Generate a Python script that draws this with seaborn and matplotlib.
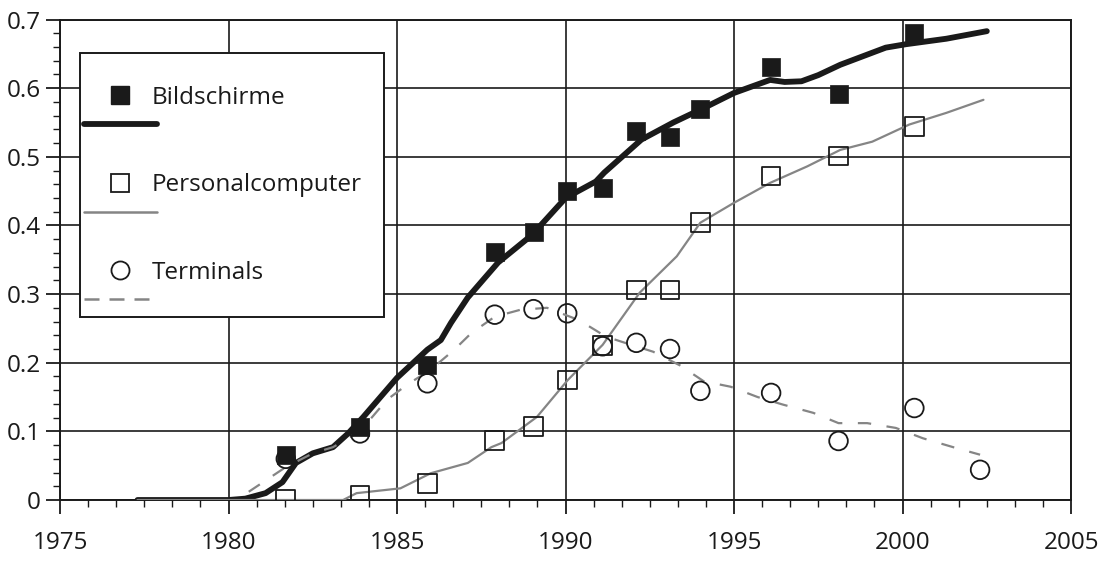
import numpy as np
import pandas as pd
import matplotlib
matplotlib.use('Agg')
import matplotlib.pyplot as plt
from matplotlib.lines import Line2D
from matplotlib.ticker import MultipleLocator, FuncFormatter
import seaborn as sns

# survey points
years = [1981.7, 1983.9, 1985.9, 1987.9, 1989.05, 1990.05, 1991.1, 1992.1,
         1993.1, 1994.0, 1996.1, 1998.1, 2000.35]
bildschirme = [0.066, 0.107, 0.197, 0.362, 0.391, 0.450, 0.454, 0.537,
               0.529, 0.569, 0.631, 0.592, 0.680]
personalcomputer = [0.001, 0.007, 0.024, 0.087, 0.107, 0.175, 0.225, 0.306,
                    0.306, 0.404, 0.472, 0.501, 0.544]
term_years = years + [2002.3]
terminals = [0.060, 0.097, 0.170, 0.270, 0.278, 0.272, 0.224, 0.229,
             0.220, 0.159, 0.156, 0.086, 0.134, 0.044]

# smoothed trend curves
bs_x = [1977.3, 1980.0, 1980.5, 1981.1, 1981.6, 1982.0, 1982.5, 1983.1, 1983.55,
        1984.0, 1985.0, 1985.9, 1986.3, 1986.6, 1987.1, 1988.0, 1989.0, 1990.0,
        1990.9, 1991.15, 1992.25, 1993.2, 1994.1, 1995.0, 1996.07, 1996.5,
        1997.0, 1997.5, 1998.15, 1999.5, 2000.1, 2001.3, 2002.5]
bs_y = [0.0, 0.0, 0.002, 0.010, 0.026, 0.054, 0.068, 0.077, 0.097,
        0.121, 0.178, 0.219, 0.233, 0.258, 0.295, 0.346, 0.386, 0.440,
        0.464, 0.477, 0.525, 0.550, 0.571, 0.593, 0.612, 0.609,
        0.610, 0.619, 0.634, 0.659, 0.664, 0.672, 0.683]

pc_x = [1977.3, 1983.4, 1983.8, 1985.1, 1986.0, 1987.1, 1987.8, 1988.1, 1989.15,
        1990.07, 1991.1, 1992.2, 1993.3, 1994.0, 1995.0, 1996.07, 1997.17,
        1998.15, 1999.1, 2000.2, 2001.3, 2002.4]
pc_y = [0.0, 0.0, 0.010, 0.017, 0.039, 0.054, 0.077, 0.083, 0.121,
        0.175, 0.226, 0.302, 0.355, 0.404, 0.433, 0.462, 0.486,
        0.510, 0.522, 0.547, 0.564, 0.583]

t_x = [1980.6, 1981.7, 1982.5, 1983.1, 1983.9, 1984.7, 1985.3, 1986.0, 1986.7,
       1987.2, 1987.9, 1988.65, 1989.45, 1990.4, 1991.2, 1991.7, 1992.6, 1993.4,
       1994.1, 1994.9, 1995.7, 1996.45, 1997.35, 1998.1, 1998.95, 1999.8,
       2000.6, 2001.5, 2002.3]
t_y = [0.012, 0.048, 0.068, 0.077, 0.100, 0.146, 0.168, 0.190, 0.219,
       0.243, 0.267, 0.277, 0.280, 0.262, 0.238, 0.230, 0.216, 0.196,
       0.173, 0.165, 0.150, 0.139, 0.127, 0.112, 0.112, 0.105,
       0.090, 0.077, 0.066]

labels = ['Bildschirme', 'Personalcomputer', 'Terminals']
x_ticks = [1975, 1980, 1985, 1990, 1995, 2000, 2005]
y_ticks = [0, 0.1, 0.2, 0.3, 0.4, 0.5, 0.6, 0.7]

sns.set_theme(style='ticks')
plt.rcParams['font.family'] = ['Open Sans', 'DejaVu Sans']
fs = 17.5

dark = '#1a1a1a'
gray = '#858585'

fig = plt.figure(figsize=(11.05, 5.62), dpi=100)
ax = fig.add_axes([0.0543, 0.1103, 0.915, 0.855])

sns.lineplot(x=bs_x, y=bs_y, ax=ax, color=dark, lw=4.2, zorder=3)
sns.lineplot(x=pc_x, y=pc_y, ax=ax, color=gray, lw=1.6, zorder=3)
sns.lineplot(x=t_x, y=t_y, ax=ax, color=gray, lw=1.6, zorder=3,
             dashes=False, linestyle=(0, (6, 7)))

sns.scatterplot(x=term_years, y=terminals, ax=ax, marker='o', s=180,
                facecolor='none', edgecolor=dark, linewidth=1.3, zorder=4)
sns.scatterplot(x=years, y=personalcomputer, ax=ax, marker='s', s=180,
                facecolor='none', edgecolor=dark, linewidth=1.3, zorder=5)
sns.scatterplot(x=years, y=bildschirme, ax=ax, marker='s', s=180,
                color=dark, edgecolor=dark, linewidth=0.5, zorder=6)

ax.set_xlim(1975, 2005)
ax.set_ylim(0, 0.7)
ax.set_xticks(x_ticks)
ax.set_yticks(y_ticks)
ax.xaxis.set_minor_locator(MultipleLocator(5 / 6))
ax.yaxis.set_minor_locator(MultipleLocator(0.02))
ax.yaxis.set_major_formatter(FuncFormatter(lambda v, p: '0' if abs(v) < 1e-9 else f'{v:.1f}'))
ax.grid(True, which='major', color=dark, lw=1.2)
ax.set_axisbelow(True)
for sp in ax.spines.values():
    sp.set_visible(True)
    sp.set_color(dark)
    sp.set_linewidth(1.4)
ax.tick_params(which='major', direction='out', length=10, width=1.3, color=dark,
               labelsize=fs, labelcolor=dark)
ax.tick_params(axis='x', which='major', pad=12)
ax.tick_params(axis='y', which='major', pad=4)
ax.tick_params(which='minor', direction='out', length=5, width=1.0, color=dark)
ax.set_xlabel('')
ax.set_ylabel('')

blank = Line2D([], [], ls='none')
handles = [
    blank,
    Line2D([], [], marker='s', ls='none', markersize=13, color=dark),
    Line2D([], [], color=dark, lw=4.2),
    blank,
    Line2D([], [], marker='s', ls='none', markersize=13, markerfacecolor='none',
           markeredgecolor=dark, markeredgewidth=1.3),
    Line2D([], [], color=gray, lw=1.8),
    blank,
    Line2D([], [], marker='o', ls='none', markersize=13, markerfacecolor='none',
           markeredgecolor=dark, markeredgewidth=1.3),
    Line2D([], [], color=gray, lw=1.8, linestyle=(0, (6, 4))),
]
leg_labels = ['', labels[0], '', '', labels[1], '', '', labels[2], '']
leg = ax.legend(handles, leg_labels, loc='upper left',
                bbox_to_anchor=(0.0198, 0.391, 0.301, 0.539), mode='expand',
                borderaxespad=0, borderpad=0.15, handlelength=3.0,
                handletextpad=-0.2, labelspacing=0.21, fontsize=fs,
                frameon=True, fancybox=False, framealpha=1, edgecolor=dark)
leg.get_frame().set_linewidth(1.4)
for t in leg.get_texts():
    t.set_color(dark)

fig.savefig('out.png', dpi=100, facecolor='white')
